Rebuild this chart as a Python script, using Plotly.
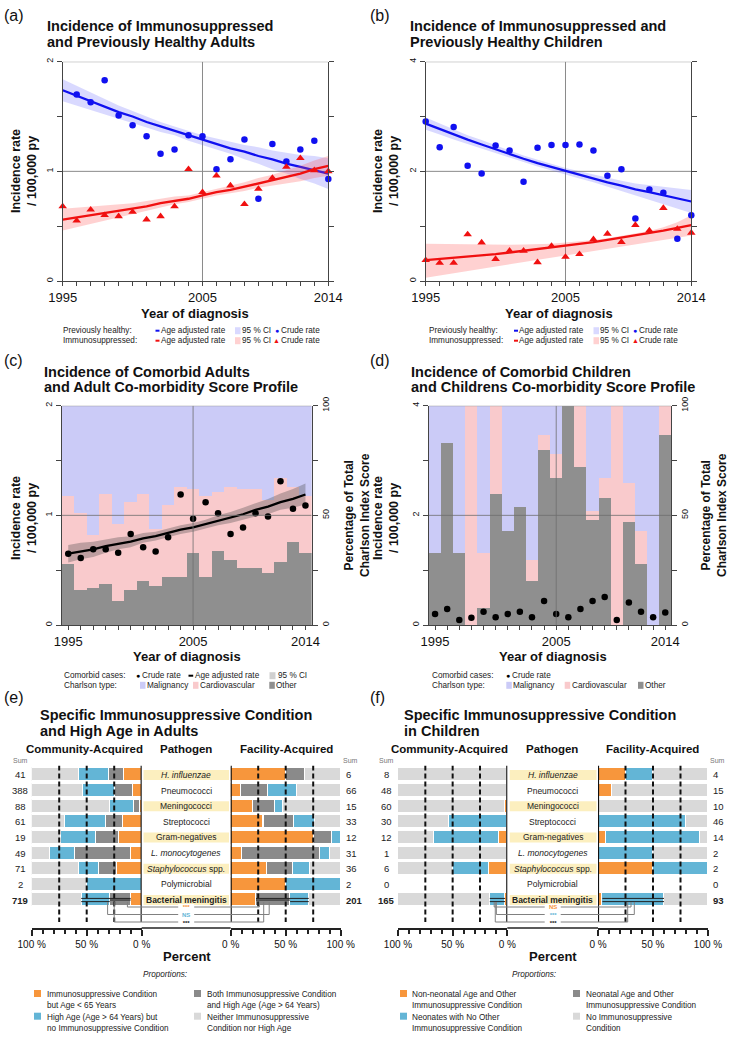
import plotly.graph_objects as go

W, H = 737, 1041
FONT = "Liberation Sans, Arial, Helvetica, sans-serif"

years = list(range(1995, 2015))
shown_years = [1995, 2005, 2014]

# ---------------- (a) adults: previously healthy (ph) / immunosuppressed (is)
a_ph_crude = [None, 1.70, 1.63, 1.83, 1.51, 1.42, 1.32, 1.16, 1.20, 1.33, 1.32, 1.02, 1.11, 1.29, 0.75, 1.25, 1.09, 1.20, 1.28, 0.93]
a_ph_fit = [1.74, 1.69, 1.64, 1.59, 1.54, 1.50, 1.45, 1.41, 1.37, 1.33, 1.29, 1.25, 1.21, 1.18, 1.14, 1.11, 1.07, 1.04, 1.01, 0.98]
a_ph_hi = [1.84, 1.78, 1.72, 1.66, 1.60, 1.55, 1.50, 1.45, 1.41, 1.37, 1.33, 1.30, 1.27, 1.24, 1.22, 1.19, 1.17, 1.15, 1.14, 1.12]
a_ph_lo = [1.64, 1.60, 1.56, 1.52, 1.48, 1.44, 1.40, 1.36, 1.33, 1.28, 1.24, 1.20, 1.16, 1.11, 1.07, 1.02, 0.98, 0.93, 0.89, 0.84]
a_is_crude = [0.68, 0.55, 0.65, 0.60, 0.59, 0.63, 0.56, 0.59, 0.68, 1.02, 0.81, 0.96, 0.87, 0.70, 0.84, 0.94, 1.04, 1.12, 1.01, 1.00]
a_is_fit = [0.56, 0.58, 0.60, 0.62, 0.64, 0.66, 0.68, 0.71, 0.73, 0.75, 0.78, 0.81, 0.83, 0.86, 0.89, 0.92, 0.95, 0.98, 1.02, 1.05]
a_is_hi = [0.66, 0.67, 0.68, 0.69, 0.70, 0.71, 0.73, 0.75, 0.77, 0.78, 0.81, 0.84, 0.87, 0.90, 0.94, 0.97, 1.01, 1.05, 1.10, 1.14]
a_is_lo = [0.46, 0.49, 0.52, 0.55, 0.58, 0.61, 0.64, 0.67, 0.70, 0.72, 0.75, 0.78, 0.80, 0.82, 0.85, 0.87, 0.89, 0.91, 0.94, 0.96]

# ---------------- (b) children
b_ph_crude = [2.91, 2.44, 2.81, 2.10, 1.96, 2.47, 2.38, 1.81, 2.43, 2.48, 2.48, 2.49, 2.38, 1.92, 2.04, 1.14, 1.67, 1.61, 0.77, 1.20]
b_ph_fit = [2.87, 2.77, 2.67, 2.58, 2.49, 2.40, 2.31, 2.23, 2.15, 2.08, 2.00, 1.93, 1.87, 1.80, 1.74, 1.67, 1.62, 1.56, 1.50, 1.45]
b_ph_hi = [2.98, 2.87, 2.76, 2.66, 2.57, 2.47, 2.38, 2.29, 2.21, 2.14, 2.06, 2.00, 1.94, 1.88, 1.83, 1.78, 1.75, 1.71, 1.68, 1.66]
b_ph_lo = [2.76, 2.67, 2.58, 2.50, 2.42, 2.33, 2.25, 2.17, 2.09, 2.02, 1.94, 1.87, 1.80, 1.72, 1.65, 1.56, 1.49, 1.41, 1.32, 1.24]
b_is_crude = [0.38, 0.33, 0.33, 0.85, 0.70, 0.40, 0.55, 0.55, 0.34, 0.64, 0.44, 0.49, 0.76, 0.86, 0.71, 1.02, 0.92, 1.33, 0.95, 0.88]
b_is_fit = [0.38, 0.40, 0.42, 0.44, 0.47, 0.49, 0.52, 0.55, 0.58, 0.61, 0.64, 0.67, 0.71, 0.75, 0.79, 0.83, 0.87, 0.92, 0.97, 1.02]
b_is_hi = [0.68, 0.675, 0.67, 0.665, 0.66, 0.66, 0.66, 0.665, 0.67, 0.68, 0.70, 0.72, 0.75, 0.78, 0.82, 0.86, 0.91, 0.98, 1.07, 1.20]
b_is_lo = [0.06, 0.10, 0.14, 0.18, 0.22, 0.26, 0.30, 0.34, 0.38, 0.42, 0.47, 0.51, 0.55, 0.59, 0.63, 0.67, 0.71, 0.75, 0.79, 0.83]

# ---------------- (c) comorbid adults
c_crude = [0.65, 0.61, 0.69, 0.69, 0.66, 0.83, 0.71, 0.67, 0.80, 1.19, 0.97, 1.12, 1.02, 0.83, 0.89, 1.02, 0.99, 1.31, 1.06, 1.09]
c_fit = [0.65, 0.67, 0.69, 0.72, 0.74, 0.76, 0.79, 0.81, 0.84, 0.87, 0.89, 0.92, 0.95, 0.98, 1.01, 1.05, 1.08, 1.12, 1.15, 1.19]
c_hi = [0.73, 0.75, 0.76, 0.78, 0.80, 0.81, 0.84, 0.85, 0.88, 0.91, 0.93, 0.96, 1.00, 1.03, 1.07, 1.11, 1.15, 1.20, 1.24, 1.29]
c_lo = [0.57, 0.60, 0.62, 0.66, 0.69, 0.71, 0.75, 0.77, 0.80, 0.83, 0.85, 0.88, 0.91, 0.93, 0.96, 0.99, 1.01, 1.05, 1.07, 1.10]
c_other = [28, 16, 17, 19, 11, 16, 20, 18, 22, 22, 33, 22, 34, 30, 26, 26, 24, 29, 38, 33]
c_cardio = [31, 35, 24, 41, 35, 40, 40, 26, 33, 41, 29, 37, 27, 33, 36, 36, 33, 38, 25, 26]
c_malig = [41, 49, 59, 40, 54, 44, 40, 56, 45, 37, 38, 41, 39, 37, 38, 38, 43, 33, 37, 41]

# ---------------- (d) comorbid children
d_crude = [0.20, 0.29, 0.09, 0.13, 0.24, 0.14, 0.20, 0.24, 0.14, 0.44, 0.20, 0.14, 0.29, 0.44, 0.51, 0.09, 0.41, 0.24, 0.14, 0.23]
d_other = [33, 83, 33, 0, 8, 60, 43, 54, 20, 80, 67, 100, 72, 48, 58, 0, 47, 28, 0, 87]
d_cardio = [0, 0, 0, 100, 25, 40, 0, 0, 10, 7, 11, 0, 28, 4, 9, 100, 18, 15, 0, 13]
d_malig = [67, 17, 67, 0, 67, 0, 57, 46, 70, 13, 22, 0, 0, 48, 33, 0, 35, 57, 100, 0]

# ---------------- (e)/(f) pathogen rows
pathogens = ["<i>H. influenzae</i>", "Pneumococci", "Meningococci", "Streptococci", "Gram-negatives",
             "<i>L. monocytogenes</i>", "<i>Staphylococcus</i> spp.", "Polymicrobial", "<b>Bacterial meningitis</b>"]
highlight_rows = [0, 2, 4, 6, 8]

e_ca_n = [41, 388, 88, 61, 19, 49, 71, 2, 719]
e_fa_n = [6, 66, 15, 33, 12, 31, 36, 2, 201]
e_ca_imm = [16, 8, 2, 17, 21, 10, 23, 0, 10]
e_ca_both = [14, 17, 5, 16, 21, 51, 16, 0, 19]
e_ca_age = [27, 29, 22, 37, 32, 23, 18, 50, 26]
e_ca_none = [43, 46, 71, 30, 26, 16, 43, 50, 45]
e_fa_imm = [50, 9, 20, 30, 75, 10, 33, 50, 23]
e_fa_both = [17, 25, 20, 27, 17, 71, 23, 0, 31]
e_fa_age = [0, 26, 7, 19, 8, 9, 16, 50, 17]
e_fa_none = [33, 40, 53, 24, 0, 10, 28, 0, 29]
e_sig = ["***", "NS", "***"]
e_brk_ca = [13, 31, 25]
e_brk_fa = [26, 35, 30]

f_ca_n = [8, 48, 60, 30, 12, 1, 6, 0, 165]
f_fa_n = [4, 15, 10, 46, 14, 2, 2, 0, 93]
f_ca_imm = [0, 0, 2, 0, 8, 0, 17, 0, 2]
f_ca_both = [0, 0, 0, 0, 0, 0, 0, 0, 0]
f_ca_age = [0, 0, 0, 53, 59, 0, 33, 0, 14]
f_ca_none = [100, 100, 98, 47, 33, 100, 50, 0, 84]
f_fa_imm = [25, 13, 0, 0, 7, 0, 50, 0, 4]
f_fa_both = [0, 0, 0, 0, 0, 0, 0, 0, 0]
f_fa_age = [25, 0, 0, 80, 86, 50, 50, 0, 56]
f_fa_none = [50, 87, 100, 20, 7, 50, 0, 0, 40]
f_sig = ["NS", "***", "***"]
f_brk_ca = [12, 10, 11]
f_brk_fa = [30, 33, 27]

# ---------------- colours
BLUE = "#1010F0"
RED = "#F01010"
BLUE_CI = "rgba(80,80,255,0.22)"
RED_CI = "rgba(255,70,70,0.25)"
MALIG = "#CBCBF7"
CARDIO = "#F9CACC"
OTHER = "#8F8F8F"
ORANGE = "#F7963C"
LBLUE = "#63B5D6"
DGRAY = "#8A8A8A"
LGRAY = "#D9D9D9"
YELLOW = "#FCEFBF"
GRID = "#8a8a8a"
AXC = "#444444"


def PX(x):
    return x / W


def PY(y):
    return 1 - y / H


fig = go.Figure()
shapes = []
anns = []
lay = {}


def text(x, y, s, size=8.5, color="#111", xa="left", ya="middle", angle=0):
    anns.append(dict(x=PX(x), y=PY(y), xref="paper", yref="paper", text=s, showarrow=False,
                     xanchor=xa, yanchor=ya, textangle=angle, borderpad=0,
                     font=dict(size=size, color=color, family=FONT)))


def rect(x0, y0, x1, y1, color):
    shapes.append(dict(type="rect", xref="paper", yref="paper", x0=PX(x0), x1=PX(x1),
                       y0=PY(y1), y1=PY(y0), fillcolor=color, line=dict(width=0), layer="above"))


def seg(x0, y0, x1, y1, color, width=1.0, dash=None, layer="above"):
    ln = dict(color=color, width=width)
    if dash:
        ln["dash"] = dash
    shapes.append(dict(type="line", xref="paper", yref="paper", x0=PX(x0), x1=PX(x1),
                       y0=PY(y0), y1=PY(y1), line=ln, layer=layer))


def name(ax, kind):
    return kind + "axis" + ax[1:]


def year_axis(xa, ya, xdom, rng):
    lay[name(xa, "x")] = dict(
        domain=[PX(xdom[0]), PX(xdom[1])], range=rng, anchor=ya, automargin=False,
        tickmode="array", tickvals=years,
        ticktext=[str(y) if y in shown_years else "" for y in years],
        ticks="outside", ticklen=4, tickwidth=1, tickcolor=AXC,
        showline=True, linecolor=AXC, linewidth=1, showgrid=False, zeroline=False,
        tickfont=dict(size=13, color="#111", family=FONT), fixedrange=True)


def rate_yaxis(ymax, anchor, side="left", mirror=False, ydom=None, overlaying=None):
    half = ymax / 2
    d = dict(range=[0, ymax], anchor=anchor, side=side, automargin=False,
             tickmode="array", tickvals=[0, ymax / 4, half, 3 * ymax / 4, ymax],
             ticktext=["0", "", "%g" % half, "", "%g" % ymax],
             tickangle=-90, ticks="outside", ticklen=5, tickwidth=1, tickcolor=AXC,
             showline=True, linecolor=AXC, linewidth=1, mirror=mirror,
             showgrid=False, zeroline=False, fixedrange=True,
             tickfont=dict(size=9, color="#111", family=FONT))
    if ydom is not None:
        d["domain"] = [PY(ydom[1]), PY(ydom[0])]
    if overlaying:
        d["overlaying"] = overlaying
    return d


def band(x, lo, hi, color, xa, ya):
    fig.add_trace(go.Scatter(x=x + x[::-1], y=hi + lo[::-1], fill="toself", fillcolor=color,
                             mode="lines", line=dict(width=0), xaxis=xa, yaxis=ya,
                             hoverinfo="skip", showlegend=False))


def grid_lines(xa, ya, x0, x1, ymax, layer):
    for (a, b, c, d) in [(2005, 0, 2005, ymax), (x0, ymax / 2, x1, ymax / 2), (x0, ymax, x1, ymax)]:
        shapes.append(dict(type="line", xref=xa, yref=ya, x0=a, y0=b, x1=c, y1=d,
                           line=dict(color=GRID, width=1), layer=layer))


# ================= panels (a) and (b)
def rate_panel(xa, ya, xdom, ydom, ymax, ph_crude, ph_fit, ph_lo, ph_hi, is_crude, is_fit, is_lo, is_hi):
    year_axis(xa, ya, xdom, [1995, 2014])
    lay[name(ya, "y")] = rate_yaxis(ymax, xa, mirror="ticks", ydom=ydom)
    grid_lines(xa, ya, 1995, 2014, ymax, "below")
    band(years, ph_lo, ph_hi, BLUE_CI, xa, ya)
    fig.add_trace(go.Scatter(x=years, y=ph_fit, mode="lines", line=dict(color=BLUE, width=2.3),
                             xaxis=xa, yaxis=ya, showlegend=False))
    band(years, is_lo, is_hi, RED_CI, xa, ya)
    fig.add_trace(go.Scatter(x=years, y=is_fit, mode="lines", line=dict(color=RED, width=2.3),
                             xaxis=xa, yaxis=ya, showlegend=False))
    fig.add_trace(go.Scatter(x=years, y=ph_crude, mode="markers", cliponaxis=False,
                             marker=dict(color=BLUE, size=6.5, symbol="circle"),
                             xaxis=xa, yaxis=ya, showlegend=False))
    fig.add_trace(go.Scatter(x=years, y=is_crude, mode="markers", cliponaxis=False,
                             marker=dict(color=RED, size=7.5, symbol="triangle-up"),
                             xaxis=xa, yaxis=ya, showlegend=False))


rate_panel("x", "y", (62.7, 328.3), (61.7, 281), 2,
           a_ph_crude, a_ph_fit, a_ph_lo, a_ph_hi, a_is_crude, a_is_fit, a_is_lo, a_is_hi)
rate_panel("x2", "y2", (425.7, 691.3), (61.7, 281), 4,
           b_ph_crude, b_ph_fit, b_ph_lo, b_ph_hi, b_is_crude, b_is_fit, b_is_lo, b_is_hi)


# ================= panels (c) and (d)
def comorb_panel(xa, yb, yo, xdom, ydom, ymax, other, cardio, malig, crude, fit=None, lo=None, hi=None):
    year_axis(xa, yb, xdom, [1994.5, 2014.5])
    lay[name(yb, "y")] = rate_yaxis(100, xa, side="right", ydom=ydom)
    lay[name(yo, "y")] = rate_yaxis(ymax, xa, side="left", overlaying=yb)
    for vals, col in [(other, OTHER), (cardio, CARDIO), (malig, MALIG)]:
        fig.add_trace(go.Bar(x=years, y=vals, width=1, marker=dict(color=col, line=dict(width=0)),
                             xaxis=xa, yaxis=yb, showlegend=False, hoverinfo="skip"))
    shapes.append(dict(type="line", xref=xa, yref=yb, x0=2005, x1=2005, y0=0, y1=100,
                       line=dict(color="rgba(110,110,110,0.8)", width=1), layer="above"))
    shapes.append(dict(type="line", xref=xa, yref=yb, x0=1994.5, x1=2014.5, y0=50, y1=50,
                       line=dict(color="rgba(110,110,110,0.8)", width=1), layer="above"))
    shapes.append(dict(type="line", xref=xa, yref=yb, x0=1994.5, x1=2014.5, y0=100, y1=100,
                       line=dict(color=GRID, width=1), layer="above"))
    if fit is not None:
        band(years, lo, hi, "rgba(70,70,70,0.33)", xa, yo)
        fig.add_trace(go.Scatter(x=years, y=fit, mode="lines", line=dict(color="#000", width=2.3),
                                 xaxis=xa, yaxis=yo, showlegend=False))
    fig.add_trace(go.Scatter(x=years, y=crude, mode="markers", cliponaxis=False,
                             marker=dict(color="#000", size=6.5),
                             xaxis=xa, yaxis=yo, showlegend=False))


comorb_panel("x3", "y3", "y4", (62, 311.7), (405.7, 625), 2, c_other, c_cardio, c_malig, c_crude,
             c_fit, c_lo, c_hi)
comorb_panel("x4", "y5", "y6", (429, 671.3), (405.7, 625), 4, d_other, d_cardio, d_malig, d_crude)

# ================= panels (e) and (f)
ROW_TOP, ROW_BOT = 765.6, 928.0
rows = list(range(9))


def cond_side(xa, ya, xdom, reverse, segs):
    lay[name(xa, "x")] = dict(
        domain=[PX(xdom[0]), PX(xdom[1])], range=[100, 0] if reverse else [0, 100], anchor=ya,
        automargin=False,
        tickmode="array", tickvals=[0, 50, 100], ticktext=["0 %", "50 %", "100 %"],
        ticks="outside", ticklen=6, tickwidth=1.5, tickcolor="#222",
        minor=dict(tickmode="linear", tick0=0, dtick=10, ticks="outside", ticklen=4,
                   tickwidth=1.5, tickcolor="#222"),
        showline=True, linecolor="#222", linewidth=1.5, showgrid=False, zeroline=False,
        fixedrange=True, tickfont=dict(size=10, color="#111", family=FONT))
    lay[name(ya, "y")] = dict(domain=[PY(ROW_BOT), PY(ROW_TOP)], range=[9.79, -0.6], anchor=xa,
                              visible=False, fixedrange=True, automargin=False)
    for vals, col in segs:
        fig.add_trace(go.Bar(x=vals, y=rows, orientation="h", width=0.9,
                             marker=dict(color=col, line=dict(color="white", width=1.2)),
                             xaxis=xa, yaxis=ya, showlegend=False, hoverinfo="skip"))
    for p in (25, 50, 75):
        shapes.append(dict(type="line", xref=xa, yref=ya, x0=p, x1=p, y0=-0.6, y1=9.4,
                           line=dict(color="#111", width=2, dash="5px,3px"), layer="above"))
    shapes.append(dict(type="line", xref=xa, yref=ya, x0=0, x1=0, y0=-0.6, y1=9.4,
                       line=dict(color="#111", width=2.2), layer="above"))


def cond_panel(xl, yl, xr, yr, ldom, rdom, ca, fa, ca_n, fa_n, sig, brk_ca, brk_fa, lab_x, yel):
    cond_side(xl, yl, ldom, True, ca)
    cond_side(xr, yr, rdom, False, fa)
    seg(ldom[1], ROW_BOT, rdom[0], ROW_BOT, "#222", 1.5)
    row_y = lambda i: ROW_TOP + (i + 0.6) * (ROW_BOT - ROW_TOP) / 10.39
    for i in rows:
        if i in highlight_rows:
            rect(yel[0], row_y(i) - 5, yel[1], row_y(i) + 5, YELLOW)
        text(lab_x, row_y(i), pathogens[i], size=8.5, color="#222", xa="center")
        bold = i == 8
        s1 = "<b>%d</b>" % ca_n[i] if bold else str(ca_n[i])
        s2 = "<b>%d</b>" % fa_n[i] if bold else str(fa_n[i])
        text(ldom[0] - 11.5, row_y(i), s1, size=9.5, color="#222", xa="center")
        text(rdom[1] + 4, row_y(i), s2, size=9.5, color="#222", xa="left")
    text(ldom[0] - 11.5, 760, "Sum", size=7, color="#777", xa="center")
    text(rdom[1] + 9.5, 760, "Sum", size=7, color="#777", xa="center")
    lx = lambda p: ldom[1] - p / 100 * (ldom[1] - ldom[0])
    rx = lambda p: rdom[0] + p / 100 * (rdom[1] - rdom[0])
    ycen = row_y(8)
    lc = [ca[0][0][8], ca[0][0][8] + ca[1][0][8], ca[0][0][8] + ca[1][0][8] + ca[2][0][8]]
    rc = [fa[0][0][8], fa[0][0][8] + fa[1][0][8], fa[0][0][8] + fa[1][0][8] + fa[2][0][8]]
    for k, (a, b) in enumerate([(0, 2), (0, 1), (1, 2)]):
        yy = ycen - 1.6 + 1.6 * k
        if lc[b] > lc[a]:
            seg(lx(lc[a]), yy, lx(lc[b]), yy, "#222", 1)
        if rc[b] > rc[a]:
            seg(rx(rc[a]), yy, rx(rc[b]), yy, "#222", 1)
    levels = [907.0, 914.5, 922.0]
    cols = [ORANGE, LBLUE, "#111"]
    for k in range(3):
        x0, x1 = lx(brk_ca[k]), rx(brk_fa[k])
        lv = levels[k]
        seg(x0, ycen + 2, x0, lv, "#808080", 1)
        seg(x0, lv, x1, lv, "#808080", 1)
        seg(x1, lv, x1, ycen + 2, "#808080", 1)
    rect(lab_x - 8, levels[0] - 3, lab_x + 8, levels[2] + 3, "white")
    lines = ["<span style='color:%s'><b>%s</b></span>" % (c, s) for c, s in zip(cols, sig)]
    text(lab_x, levels[1] + 0.5, "<br>".join(lines), size=6, color="#111", xa="center")


cond_panel("x5", "y7", "x6", "y8", (31.7, 141.7), (230.7, 340.7),
           [(e_ca_imm, ORANGE), (e_ca_both, DGRAY), (e_ca_age, LBLUE), (e_ca_none, LGRAY)],
           [(e_fa_imm, ORANGE), (e_fa_both, DGRAY), (e_fa_age, LBLUE), (e_fa_none, LGRAY)],
           e_ca_n, e_fa_n, e_sig, e_brk_ca, e_brk_fa, 186.2, (143.5, 229.0))
cond_panel("x7", "y9", "x8", "y10", (398.0, 507.3), (598.0, 708.0),
           [(f_ca_imm, ORANGE), (f_ca_both, DGRAY), (f_ca_age, LBLUE), (f_ca_none, LGRAY)],
           [(f_fa_imm, ORANGE), (f_fa_both, DGRAY), (f_fa_age, LBLUE), (f_fa_none, LGRAY)],
           f_ca_n, f_fa_n, f_sig, f_brk_ca, f_brk_fa, 552.7, (509.7, 596.5))

# ================= text: panel labels, titles, axis titles
for lab, x, y in [("(a)", 3, 15), ("(b)", 369, 15), ("(c)", 3, 360), ("(d)", 369, 360),
                  ("(e)", 3, 697), ("(f)", 369, 697)]:
    text(x, y, lab, size=16, color="#111")

titles = [
    (45.5, 26, 42, "Incidence of Immunosuppressed", "and Previously Healthy Adults"),
    (408.5, 26, 42, "Incidence of Immunosuppressed and", "Previously Healthy Children"),
    (42.5, 371.5, 387, "Incidence of Comorbid Adults", "and Adult Co-morbidity Score Profile"),
    (410, 371.5, 387, "Incidence of Comorbid Children", "and Childrens Co-morbidity Score Profile"),
    (38.5, 714.5, 730.5, "Specific Immunosuppressive Condition", "and High Age in Adults"),
    (403, 714.5, 730.5, "Specific Immunosuppressive Condition", "in Children"),
]
for x, y1, y2, l1, l2 in titles:
    text(x, y1, "<b>%s</b>" % l1, size=14.5)
    text(x, y2, "<b>%s</b>" % l2, size=14.5)

for x, y in [(24, 171), (386, 171), (24, 518), (386, 518)]:
    text(x, y, "<b>Incidence rate<br>/ 100,000 py</b>", size=12.5, xa="center", angle=-90)
for x, y in [(357, 515), (714, 515)]:
    text(x, y, "<b>Percentage of Total<br>Charlson Index Score</b>", size=12, xa="center", angle=-90)
for x, y in [(195, 313), (558.5, 313), (186.7, 656.5), (553, 656.5)]:
    text(x, y, "<b>Year of diagnosis</b>", size=13, xa="center")

for cx, s in [(84, "Community-Acquired"), (185.5, "Pathogen"), (286, "Facility-Acquired"),
              (449.7, "Community-Acquired"), (552, "Pathogen"), (652.5, "Facility-Acquired")]:
    text(cx, 749, "<b>%s</b>" % s, size=11.5, xa="center")
for cx in (186.7, 553):
    text(cx, 956, "<b>Percent</b>", size=13, xa="center")

# ================= legends (a)/(b)
for base, off in [(62, 0), (428, 358.5)]:
    rows_leg = [(330.7, "Previously healthy:", BLUE, BLUE_CI, "circle"),
                (340.7, "Immunosuppressed:", RED, RED_CI, "triangle")]
    for yy, lbl, col, cic, sym in rows_leg:
        text(base, yy, lbl, size=8.2, color="#222")
        seg(155.5 + off, yy, 159.5 + off, yy, col, 2)
        text(159.8 + off, yy, "Age adjusted rate", size=8.2, color="#222")
        rect(235 + off, yy - 3.5, 240.5 + off, yy + 3.5, cic)
        text(240.8 + off, yy, "95 % CI", size=8.2, color="#222")
        if sym == "circle":
            text(276.8 + off, yy, "\u25cf", size=7, color=col, xa="center")
        else:
            text(276.8 + off, yy - 0.5, "\u25b2", size=7, color=col, xa="center")
        text(279.5 + off, yy, "Crude rate", size=8.2, color="#222")

# legends (c)/(d)
text(62.7, 675.7, "Comorbid cases:", size=8.2, color="#222")
text(138.3, 675.7, "\u25cf", size=7, color="#000", xa="center")
text(140.8, 675.7, "Crude rate", size=8.2, color="#222")
seg(188.5, 675.7, 193.2, 675.7, "#000", 2)
text(193.5, 675.7, "Age adjusted rate", size=8.2, color="#222")
rect(269.5, 672.2, 275.5, 679.2, "#D0D0D0")
text(276.5, 675.7, "95 % CI", size=8.2, color="#222")
text(430.7, 675.7, "Comorbid cases:", size=8.2, color="#222")
text(508.2, 675.7, "\u25cf", size=7, color="#000", xa="center")
text(510.7, 675.7, "Crude rate", size=8.2, color="#222")
for x0, sq in [(62.7, (140, 193, 269.3)), (430.7, (506.3, 564.7, 638))]:
    yy = 685.3
    text(x0, yy, "Charlson type:", size=8.2, color="#222")
    for sx, col, lbl in zip(sq, (MALIG, CARDIO, OTHER), ("Malignancy", "Cardiovascular", "Other")):
        rect(sx, yy - 3.5, sx + 5.5, yy + 3.5, col)
        text(sx + 5.8, yy, lbl, size=8.2, color="#222")

# legends (e)/(f)
leg_e = [("Immunosuppressive Condition", "but Age < 65 Years"),
         ("High Age (Age > 64 Years) but", "no Immunosuppressive Condition"),
         ("Both Immunosuppressive Condition", "and High Age (Age > 64 Years)"),
         ("Neither Immunosuppressive", "Condition nor High Age")]
leg_f = [("Non-neonatal Age and Other", "Immunosuppressive Condition"),
         ("Neonates with No Other", "Immunosuppressive Condition"),
         ("Neonatal Age and Other", "Immunosuppressive Condition"),
         ("No Immunosuppressive", "Condition")]
leg_cols = [ORANGE, LBLUE, DGRAY, LGRAY]
for (cx, c1, c2, labels) in [(165, 34, 194, leg_e), (533.7, 400, 573, leg_f)]:
    text(cx, 974, "<i>Proportions:</i>", size=8.2, color="#222", xa="center")
    for k, (l1, l2) in enumerate(labels):
        sx = c1 if k < 2 else c2
        ytop = 994.3 if k % 2 == 0 else 1017
        rect(sx, ytop - 4.3, sx + 7, ytop + 2.7, leg_cols[k])
        text(sx + 11.5, ytop, l1, size=8.2, color="#222")
        text(sx + 11.5, ytop + 11, l2, size=8.2, color="#222")

fig.update_layout(
    width=W, height=H, margin=dict(l=0, r=0, t=0, b=0, pad=0, autoexpand=False),
    paper_bgcolor="white", plot_bgcolor="white",
    barmode="stack", bargap=0, showlegend=False,
    font=dict(family=FONT, size=10, color="#111"),
    shapes=shapes, annotations=anns, **lay)

fig.write_html("out.html", config={"displayModeBar": False},
               post_script="document.body.style.margin='0px';document.body.style.overflow='hidden';")
